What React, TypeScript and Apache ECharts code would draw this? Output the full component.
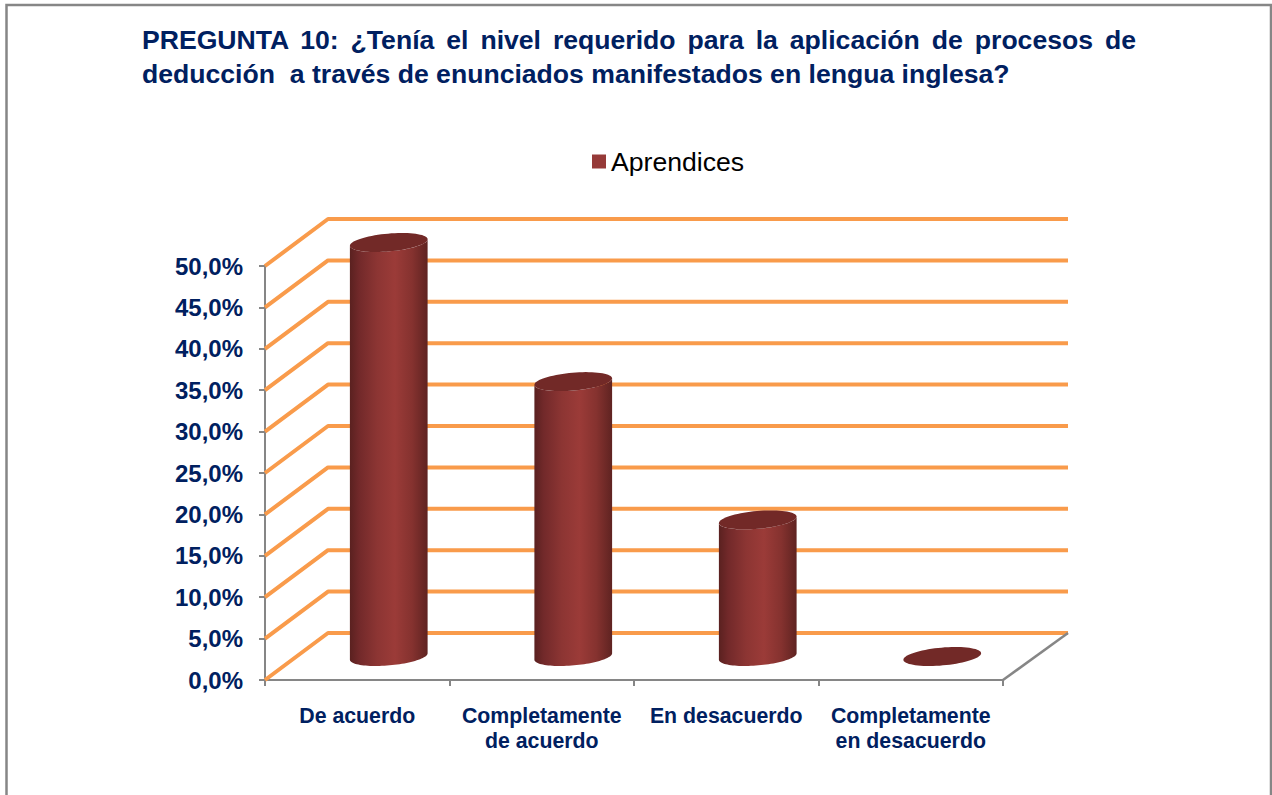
import React, { useEffect, useRef } from "react";
import * as echarts from "echarts";

const categories = ["De acuerdo", "Completamente\nde acuerdo", "En desacuerdo", "Completamente\nen desacuerdo"];
const seriesName = "Aprendices";
const values = [50, 33.2, 16.5, 0];
const gridLevels = [0, 5, 10, 15, 20, 25, 30, 35, 40, 45, 50];
const titleLines = [
  "PREGUNTA 10: ¿Tenía el nivel requerido para la aplicación de procesos de",
  "deducción  a través de enunciados manifestados en lengua inglesa?",
];

const NAVY = "#002060";
const FONT = '"Liberation Sans", Arial, sans-serif';
const TITLE_SIZE = 26.6;
const DX = 63;
const DY = -47;
const RX = 39;
const RY = 8.9;
const TILT = (5 * Math.PI) / 180;

function ellipsePoints(cx: number, cy: number, from = 0, to = Math.PI * 2, n = 72) {
  const pts: number[][] = [];
  for (let i = 0; i <= n; i++) {
    const t = from + ((to - from) * i) / n;
    const ex = RX * Math.cos(t);
    const ey = RY * Math.sin(t);
    pts.push([cx + ex * Math.cos(TILT) + ey * Math.sin(TILT), cy - ex * Math.sin(TILT) + ey * Math.cos(TILT)]);
  }
  return pts;
}

export default function App() {
  const ref = useRef<HTMLDivElement>(null);
  useEffect(() => {
    document.body.style.margin = "0";
    const chart = echarts.init(ref.current!, null, { renderer: "svg" });
    chart.setOption({
      animation: false,
      backgroundColor: "#ffffff",
      graphic: [
        {
          type: "rect",
          shape: { x: 6.5, y: 5, width: 1264.5, height: 810 },
          style: { fill: "none", stroke: "#868686", lineWidth: 2.5 },
          silent: true,
        },
        {
          type: "text",
          x: 142,
          y: 40,
          style: { text: titleLines[0], font: `bold ${TITLE_SIZE}px ${FONT}`, fill: NAVY, verticalAlign: "middle" },
        },
        {
          type: "text",
          x: 142,
          y: 73.5,
          style: { text: titleLines[1], font: `bold ${TITLE_SIZE}px ${FONT}`, fill: NAVY, verticalAlign: "middle" },
        },
      ],
      legend: {
        data: [seriesName],
        left: 587,
        top: 143,
        icon: "rect",
        itemWidth: 14,
        itemHeight: 14,
        itemGap: 0,
        textStyle: { fontFamily: FONT, fontSize: 26.6, color: "#000000" },
      },
      grid: { left: 265, right: 269, top: 266, bottom: 115 },
      xAxis: {
        type: "category",
        data: categories,
        axisLine: { lineStyle: { color: "#868686", width: 2 } },
        axisTick: { show: true, length: 6, lineStyle: { color: "#868686", width: 2 } },
        axisLabel: {
          interval: 0,
          margin: 23,
          color: NAVY,
          fontFamily: FONT,
          fontWeight: "bold",
          fontSize: 21.3,
          lineHeight: 25,
        },
      },
      yAxis: {
        type: "value",
        min: 0,
        max: 50,
        interval: 5,
        splitLine: { show: false },
        axisLine: { show: true, lineStyle: { color: "#868686", width: 2 } },
        axisTick: { show: true, length: 6, lineStyle: { color: "#868686", width: 2 } },
        axisLabel: {
          margin: 22,
          color: NAVY,
          fontFamily: FONT,
          fontWeight: "bold",
          fontSize: 24,
          formatter: (v: number) => v.toFixed(1).replace(".", ",") + "%",
        },
      },
      series: [
        {
          type: "custom",
          coordinateSystem: "cartesian2d",
          silent: true,
          legendHoverLink: false,
          data: gridLevels.map((v) => [0, v]),
          encode: { x: 0, y: 1 },
          z: 1,
          renderItem: (_p: any, api: any) => {
            const [fx, fy] = api.coord([0, api.value(1)]);
            const band = api.size([1, 0])[0];
            const left = fx - band / 2;
            const rightX = left + band * categories.length + DX + 2;
            return {
              type: "polyline",
              shape: { points: [[left, fy], [left + DX, fy + DY], [rightX, fy + DY]] },
              style: { stroke: "#F99B4B", lineWidth: 4, fill: "none", lineJoin: "round" },
            };
          },
        },
        {
          type: "custom",
          coordinateSystem: "cartesian2d",
          silent: true,
          data: [[0, 0]],
          encode: { x: 0, y: 1 },
          z: 2,
          renderItem: (_p: any, api: any) => {
            const [fx, fy] = api.coord([categories.length - 1, 0]);
            const band = api.size([1, 0])[0];
            const x = fx + band / 2;
            return {
              type: "line",
              shape: { x1: x, y1: fy, x2: x + DX + 2, y2: fy + DY },
              style: { stroke: "#868686", lineWidth: 2.5 },
            };
          },
        },
        {
          type: "custom",
          name: seriesName,
          coordinateSystem: "cartesian2d",
          silent: true,
          itemStyle: { color: "#963A38" },
          data: values.map((v, i) => [i, v]),
          encode: { x: 0, y: 1 },
          z: 3,
          renderItem: (_p: any, api: any) => {
            const idx = api.value(0);
            const [bx, by] = api.coord([idx, 0]);
            const [, ty] = api.coord([idx, api.value(1)]);
            const cx = bx + DX / 2;
            const botY = by + DY / 2;
            const topY = ty + DY / 2;
            const children: any[] = [];
            if (api.value(1) > 0) {
              const lower = ellipsePoints(cx, botY, Math.PI, 0, 48);
              const upper = ellipsePoints(cx, topY, 0, Math.PI, 48);
              children.push({
                type: "polygon",
                shape: { points: [...lower, ...upper] },
                style: {
                  fill: new echarts.graphic.LinearGradient(0, 0, 1, 0, [
                    { offset: 0, color: "#5A2120" },
                    { offset: 0.12, color: "#72292A" },
                    { offset: 0.35, color: "#8C3533" },
                    { offset: 0.58, color: "#9B3B38" },
                    { offset: 0.8, color: "#85322F" },
                    { offset: 1, color: "#5F2321" },
                  ]),
                },
              });
            }
            children.push({
              type: "polygon",
              shape: { points: ellipsePoints(cx, topY) },
              style: { fill: "#722927" },
            });
            return { type: "group", children };
          },
        },
      ],
    });

    // The source title is justified: stretch the first line's word gaps to its right margin.
    const canvas = document.createElement("canvas").getContext("2d")!;
    canvas.font = `bold ${TITLE_SIZE}px "Liberation Sans"`;
    const natural = canvas.measureText(titleLines[0]).width;
    const gaps = titleLines[0].split(" ").length - 1;
    ref.current!.querySelectorAll("text").forEach((t) => {
      if (t.textContent === titleLines[0]) {
        t.style.wordSpacing = `${(995 - natural) / gaps}px`;
      }
    });
    return () => chart.dispose();
  }, []);
  return <div ref={ref} style={{ position: "absolute", left: 0, top: 0, width: 1272, height: 795 }} />;
}
